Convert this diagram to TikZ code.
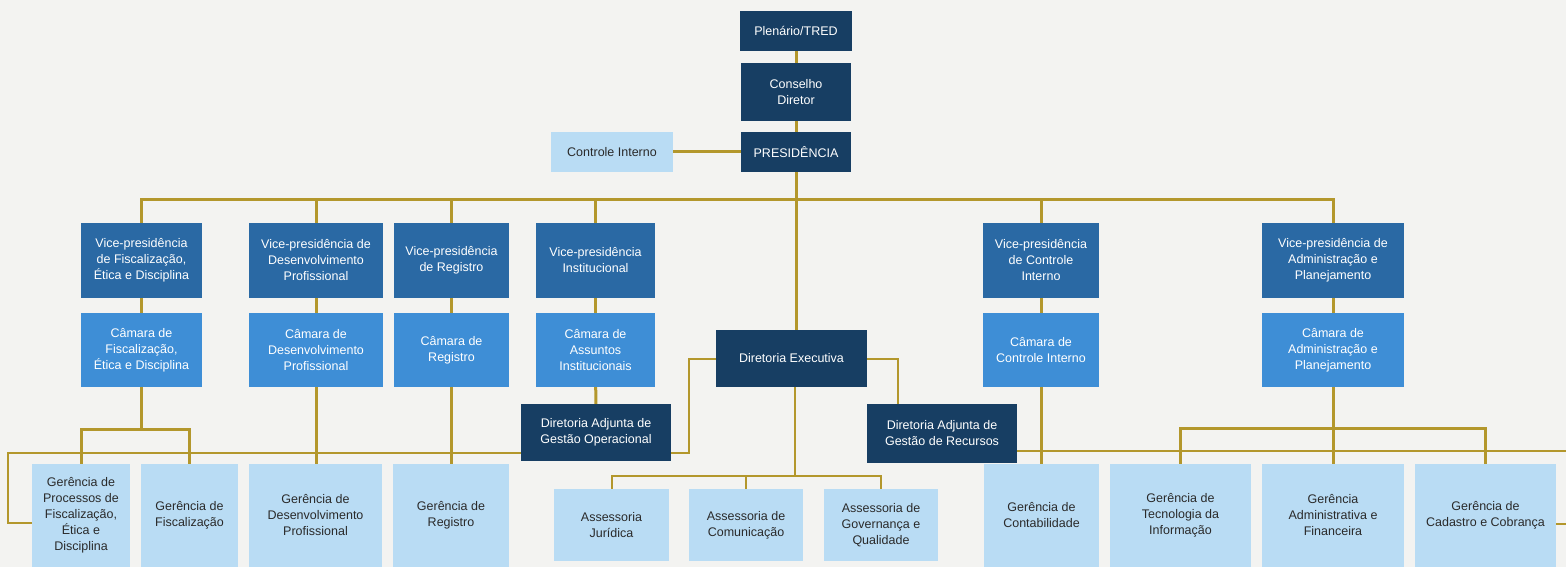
\documentclass[tikz,border=0pt]{standalone}
\usepackage{fontspec}
\setmainfont{Liberation Sans}
\definecolor{paper}{HTML}{F3F3F1}
\definecolor{navy}{HTML}{173E63}
\definecolor{vpblue}{HTML}{2A69A4}
\definecolor{cmblue}{HTML}{3E8ED6}
\definecolor{skyblue}{HTML}{B9DCF4}
\definecolor{gold}{HTML}{B3972C}
\definecolor{ink}{HTML}{2A2A2A}
\tikzset{
  box/.style={inner sep=0pt, align=center, font=\fontsize{12.5}{16}\selectfont},
  top/.style={box, fill=navy, text=white},
  vp/.style={box, fill=vpblue, text=white},
  cam/.style={box, fill=cmblue, text=white},
  unit/.style={box, fill=skyblue, text=ink},
  wire/.style={draw=gold, line width=3pt},
  thin/.style={draw=gold, line width=2pt}
}
\begin{document}
\begin{tikzpicture}[x=1pt, y=-1pt]
  \useasboundingbox (0,0) rectangle (1566,567);
  \clip (0,0) rectangle (1566,567);
  \fill[paper] (0,0) rectangle (1566,567);
  % box: name, style, x1, y1, x2, y2, text
  \def\B#1#2#3#4#5#6#7{
    \node[#2, minimum width=#5pt-#3pt, minimum height=#6pt-#4pt] (#1) at ({(#3+#5)/2},{(#4+#6)/2}) {#7};
  }

  % top
  \B{plen}{top}{740}{11}{852}{51}{Plenário/TRED}
  \B{cons}{top}{741}{63}{851}{121}{Conselho\\Diretor}
  \B{pres}{top}{741}{132}{851}{172}{PRESIDÊNCIA}
  \B{ctrl}{unit}{551}{132}{673}{172}{Controle Interno}

  % vice-presidencias and camaras
  \B{vpfis}{vp}{81}{223}{202}{298}{Vice-presidência\\de Fiscalização,\\Ética e Disciplina}
  \B{vpdes}{vp}{249}{223}{383}{298}{Vice-presidência de\\Desenvolvimento\\Profissional}
  \B{vpreg}{vp}{394}{223}{509}{298}{Vice-presidência\\de Registro}
  \B{vpins}{vp}{536}{223}{655}{298}{Vice-presidência\\Institucional}
  \B{vpci}{vp}{983}{223}{1099}{298}{Vice-presidência\\de Controle\\Interno}
  \B{vpadm}{vp}{1262}{223}{1404}{298}{Vice-presidência de\\Administração e\\Planejamento}
  \B{camfis}{cam}{81}{313}{202}{387}{Câmara de\\Fiscalização,\\Ética e Disciplina}
  \B{camdes}{cam}{249}{313}{383}{387}{Câmara de\\Desenvolvimento\\Profissional}
  \B{camreg}{cam}{394}{313}{509}{387}{Câmara de\\Registro}
  \B{camins}{cam}{536}{313}{655}{387}{Câmara de\\Assuntos\\Institucionais}
  \B{camci}{cam}{983}{313}{1099}{387}{Câmara de\\Controle Interno}
  \B{camadm}{cam}{1262}{313}{1404}{387}{Câmara de\\Administração e\\Planejamento}

  % named bends
  \coordinate (bus) at (795,199);
  \coordinate (fbr) at (camfis.south |- 0,429);
  \coordinate (abr) at (camadm.south |- 0,428);
  \coordinate (asb) at (795,476);
  \coordinate (lft) at (689,453);
  \coordinate (rgt) at (898,358);
  \coordinate (wl) at (8,453);
  \coordinate (wr) at (1580,451);

  % connectors, under the boxes drawn later
  \draw[wire] (plen) -- (cons) -- (pres);
  \draw[wire] (ctrl) -- (pres);
  \draw[wire] (pres.south) -- (pres.south |- 0,330);
  \draw[wire] (vpfis.north) |- (bus) -| (vpadm.north);
  \foreach \v in {vpdes,vpreg,vpins,vpci}
    \draw[wire] (\v.north) -- (\v.north |- bus);
  \foreach \v in {fis,des,reg,ins,ci,adm}
    \draw[wire] (vp\v) -- (cam\v);
  \draw[wire] (camfis.south) -- (fbr);
  \draw[wire] (camadm.south) -- (abr);
  \draw[thin] (rgt |- 0,404) |- (wr) -- (wr |- 0,524) -- (1556,524);
  \draw[thin] (lft) -- (wl) -- (wl |- 0,523) -- (32,523);

  \B{dexe}{top}{716}{330}{867}{387}{Diretoria Executiva}
  \B{dop}{top}{521}{404}{671}{461}{Diretoria Adjunta de\\Gestão Operacional}
  \B{drec}{top}{867}{404}{1017}{463}{Diretoria Adjunta de\\Gestão de Recursos}

  % gerencias and assessorias
  \B{gproc}{unit}{32}{464}{130}{567}{Gerência de\\Processos de\\Fiscalização,\\Ética e\\Disciplina}
  \B{gfis}{unit}{141}{464}{238}{567}{Gerência de\\Fiscalização}
  \B{gdes}{unit}{249}{464}{382}{567}{Gerência de\\Desenvolvimento\\Profissional}
  \B{greg}{unit}{393}{464}{509}{567}{Gerência de\\Registro}
  \B{gcon}{unit}{984}{464}{1099}{567}{Gerência de\\Contabilidade}
  \B{gti}{unit}{1110}{464}{1251}{567}{Gerência de\\Tecnologia da\\Informação}
  \B{gadm}{unit}{1262}{464}{1404}{567}{Gerência\\Administrativa e\\Financeira}
  \B{gcad}{unit}{1415}{464}{1556}{567}{Gerência de\\Cadastro e Cobrança}
  \B{ajur}{unit}{554}{489}{669}{561}{Assessoria\\Jurídica}
  \B{acom}{unit}{689}{489}{803}{561}{Assessoria de\\Comunicação}
  \B{agov}{unit}{824}{489}{938}{561}{Assessoria de\\Governança e\\Qualidade}

  \draw[wire] (gproc.north) |- (fbr) -| (gfis.north);
  \draw[wire] (camdes.south) -- (camdes.south |- gdes.north);
  \draw[wire] (camreg.south) -- (camreg.south |- greg.north);
  \draw[wire] (camins) -- (dop);
  \draw[wire] (camci.south) -- (camci.south |- gcon.north);
  \draw[wire] (gti.north) |- (abr) -| (gcad.north);
  \draw[wire] (abr) -- (gadm.north);
  \draw[thin] (dexe.west) -| (lft) -- (dop.east |- lft);
  \draw[thin] (dexe.east) -| (rgt |- drec.north);
  \draw[thin] (dexe.south -| asb) -- (asb);
  \draw[thin] (ajur.north) |- (asb) -| (agov.north);
  \draw[thin] (acom.north) -- (acom.north |- asb);
\end{tikzpicture}
\end{document}
